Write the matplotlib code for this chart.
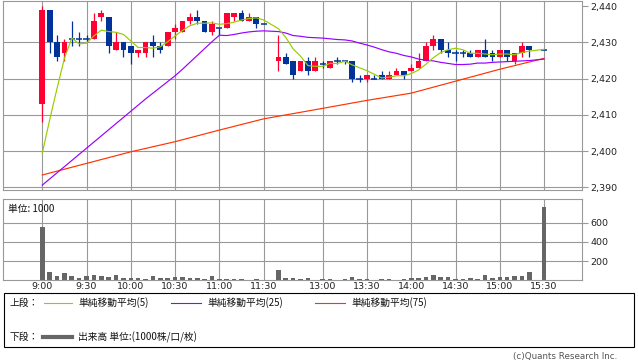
import matplotlib
matplotlib.use("Agg")
import matplotlib.pyplot as plt
from matplotlib.patches import Rectangle
from matplotlib.lines import Line2D

plt.rcParams['font.family'] = ['DejaVu Sans']
JP = ['Noto Sans CJK JP', 'DejaVu Sans']

# 5-minute slots, 0 = 9:00 ... 68 = 15:30 (slot 31 = lunch, 67 = closing auction wait)
bar_pos = list(range(0, 31)) + list(range(32, 67)) + [68]

opens = [2413, 2439, 2430, 2427, 2431, 2431, 2431, 2431, 2437, 2437, 2428, 2430, 2429, 2427, 2427, 2430,
         2429, 2429, 2433, 2433, 2436, 2437, 2436, 2433, 2434, 2434, 2437, 2438, 2436, 2437, 2435,
         2425, 2426, 2425, 2422, 2425, 2422, 2424, 2423, 2425, 2425, 2425, 2420, 2420, 2420, 2421, 2420,
         2421, 2422, 2422, 2423, 2425, 2429, 2431, 2428, 2427, 2427, 2427, 2426, 2428, 2427, 2426, 2428,
         2425, 2427, 2429, 2428]
highs = [2440, 2439, 2432, 2431, 2436, 2433, 2432, 2438, 2439, 2437, 2433, 2430, 2429, 2428, 2430, 2432,
         2430, 2433, 2435, 2436, 2438, 2439, 2436, 2436, 2434, 2438, 2438, 2439, 2438, 2437, 2435,
         2432, 2427, 2425, 2425, 2426, 2426, 2425, 2425, 2426, 2425, 2425, 2421, 2421, 2421, 2422, 2422,
         2423, 2422, 2424, 2427, 2430, 2432, 2431, 2430, 2428, 2428, 2428, 2428, 2431, 2428, 2428, 2428,
         2427, 2430, 2429, 2428]
lows = [2408, 2427, 2425, 2425, 2429, 2429, 2430, 2431, 2436, 2427, 2428, 2426, 2424, 2426, 2426, 2426,
        2427, 2429, 2431, 2433, 2435, 2435, 2433, 2432, 2432, 2434, 2436, 2436, 2436, 2434, 2435,
        2422, 2424, 2420, 2422, 2421, 2422, 2423, 2423, 2424, 2424, 2419, 2419, 2419, 2420, 2420, 2420,
        2421, 2420, 2422, 2423, 2425, 2428, 2427, 2426, 2425, 2426, 2426, 2426, 2426, 2425, 2426, 2425,
        2424, 2426, 2426, 2428]
closes = [2439, 2430, 2426, 2430, 2431, 2431, 2431, 2436, 2438, 2429, 2430, 2428, 2427, 2428, 2430, 2429,
          2428, 2433, 2434, 2436, 2437, 2436, 2433, 2435, 2434, 2438, 2438, 2436, 2437, 2435, 2435,
          2426, 2424, 2421, 2425, 2422, 2425, 2424, 2425, 2425, 2425, 2420, 2420, 2421, 2420, 2420, 2421,
          2422, 2421, 2423, 2425, 2429, 2431, 2428, 2427, 2427, 2427, 2426, 2428, 2426, 2426, 2428, 2426,
          2427, 2429, 2428, 2428]

ma5 = [2399.4, 2408.6, 2417.3, 2425.6, 2431.2, 2429.6, 2429.8, 2431.8, 2433.4, 2433.0, 2432.8, 2432.2,
       2430.4, 2428.6, 2428.6, 2428.4, 2428.8, 2430.2, 2431.8, 2433.3, 2434.6, 2435.3, 2435.3, 2435.4,
       2435.0, 2435.2, 2435.6, 2436.2, 2436.6, 2436.8, 2436.2,
       2433.8, 2431.4, 2428.2, 2426.2, 2423.6, 2423.4, 2423.4, 2424.2, 2424.2, 2424.8, 2423.8, 2423.0,
       2422.2, 2421.2, 2420.2, 2420.4, 2420.8, 2420.8, 2421.4, 2422.4, 2424.0, 2425.8, 2427.2, 2428.0,
       2428.4, 2428.0, 2427.0, 2427.0, 2426.8, 2426.6, 2426.8, 2426.8, 2426.6, 2427.2, 2427.6, 2428.1]
ma25 = [2390.6, 2392.3, 2394.0, 2395.7, 2397.4, 2399.1, 2400.8, 2402.5, 2404.2, 2405.9, 2407.6, 2409.3,
        2411.0, 2412.7, 2414.4, 2416.0, 2417.6, 2419.2, 2420.8, 2422.6, 2424.5, 2426.4, 2428.3, 2430.2,
        2432.0, 2431.9, 2432.2, 2432.6, 2432.9, 2433.1, 2433.2,
        2433.0, 2432.6, 2431.9, 2431.7, 2431.4, 2431.3, 2431.2, 2431.0, 2430.8, 2430.7, 2430.4, 2429.8,
        2429.3, 2428.7, 2428.0, 2427.4, 2427.0, 2426.4, 2426.0, 2425.4, 2425.1, 2424.9, 2424.5, 2424.2,
        2423.9, 2423.9, 2424.0, 2424.3, 2424.3, 2424.5, 2424.6, 2424.7, 2424.8, 2424.9, 2425.0, 2425.4]
ma75_pos = [0, 6, 12, 18, 24, 30, 38, 44, 50, 56, 62, 68]
ma75 = [2393.4, 2396.6, 2399.8, 2402.6, 2405.8, 2408.9, 2411.8, 2414.0, 2416.0, 2419.3, 2422.6, 2425.6]

volume = [555, 89, 48, 79, 48, 27, 48, 58, 48, 37, 58, 27, 27, 27, 17, 48, 27, 27, 37, 37, 27, 27, 17,
          48, 17, 17, 17, 17, 5, 17, 3,
          110, 27, 27, 17, 27, 5, 17, 17, 5, 17, 37, 17, 17, 5, 17, 17, 5, 17, 27, 27, 37, 58, 37, 37,
          17, 17, 27, 17, 58, 27, 37, 37, 48, 48, 89, 766]

time_pos = [0, 6, 12, 18, 24, 30, 38, 44, 50, 56, 62, 68]
time_labels = ['9:00', '9:30', '10:00', '10:30', '11:00', '11:30', '13:00', '13:30',
               '14:00', '14:30', '15:00', '15:30']
price_ticks = [2390, 2400, 2410, 2420, 2430, 2440]
price_labels = ['2,390', '2,400', '2,410', '2,420', '2,430', '2,440']
vol_ticks = [200, 400, 600]
vol_labels = ['200', '400', '600']

UP = '#ff0033'
DOWN = '#003399'
GRID = '#999999'

W, H = 638, 362
fig = plt.figure(figsize=(W / 100, H / 100), dpi=100)


def fx(px):
    return px / W


def fy(py):
    return 1 - py / H


ax1 = fig.add_axes([fx(3.3), fy(189.7), fx(581.7) - fx(3.3), fy(1) - fy(189.7)])
ax2 = fig.add_axes([fx(3.3), fy(280.3), fx(581.7) - fx(3.3), fy(199.3) - fy(280.3)])

for ax in (ax1, ax2):
    ax.set_xlim(-5.28, 73.1)
    for s in ax.spines.values():
        s.set_color(GRID)
        s.set_linewidth(0.8)
    for t in time_pos:
        ax.axvline(t, color=GRID, lw=0.8, zorder=0)
    ax.yaxis.tick_right()
    ax.tick_params(axis='y', length=4.5, width=0.8, color=GRID, labelsize=6.8,
                   labelcolor='#222222', pad=2)

# price panel
ax1.set_ylim(2389.34, 2441.44)
for p in price_ticks[:-1]:
    ax1.axhline(p, color=GRID, lw=0.8, zorder=0)
ax1.set_yticks(price_ticks)
ax1.set_yticklabels(price_labels)
ax1.set_xticks([])

body_bot = [min(o, c) for o, c in zip(opens, closes)]
body_h = [abs(c - o) for o, c in zip(opens, closes)]
cols = [UP if c > o else DOWN for o, c in zip(opens, closes)]
ax1.vlines(bar_pos, lows, highs, colors=cols, lw=0.9, zorder=2)
ax1.bar(bar_pos, body_h, bottom=body_bot, width=0.78, color=cols, lw=0, zorder=2)
doji = [(x, c) for x, o, c in zip(bar_pos, opens, closes) if o == c]
ax1.hlines([d[1] for d in doji], [d[0] - 0.42 for d in doji], [d[0] + 0.42 for d in doji],
           colors=DOWN, lw=1.1, zorder=2)

ax1.plot(ma75_pos, ma75, color='#ff3300', lw=0.85, zorder=3)
ax1.plot(bar_pos, ma25, color='#9900ff', lw=0.85, zorder=3)
ax1.plot(bar_pos, ma5, color='#99cc00', lw=0.85, zorder=3)

# volume panel
ax2.set_ylim(0, 842)
for v in vol_ticks:
    ax2.axhline(v, color=GRID, lw=0.8, zorder=0)
ax2.bar(bar_pos, volume, width=0.62, color='#666666', lw=0, zorder=2)
ax2.set_yticks(vol_ticks)
ax2.set_yticklabels(vol_labels)
ax2.set_xticks(time_pos)
ax2.set_xticklabels(time_labels)
ax2.tick_params(axis='x', length=0, labelsize=6.8, labelcolor='#222222', pad=1.5)
ax2.text(fx(8), fy(209), '単位: 1000', transform=fig.transFigure, fontsize=7, family=JP,
         va='center', ha='left', color='#111111')

# legend box
fig.patches.append(Rectangle((fx(3.5), fy(347)), fx(634) - fx(3.5), fy(293.5) - fy(347),
                             transform=fig.transFigure, fill=False, ec='#000000', lw=0.8))
row1, row2 = 303, 337
fig.text(fx(10), fy(row1), '上段：', fontsize=7, family=JP, va='center', color='#111111')
fig.text(fx(10), fy(row2), '下段：', fontsize=7, family=JP, va='center', color='#111111')
legend_items = [(44, 72, '#99cc00', '単純移動平均(5)'),
                (171, 201, '#9900ff', '単純移動平均(25)'),
                (315, 345, '#ff3300', '単純移動平均(75)')]
for x0, x1, col, lab in legend_items:
    fig.add_artist(Line2D([fx(x0), fx(x1)], [fy(row1), fy(row1)], transform=fig.transFigure,
                          color=col, lw=0.8))
    fig.text(fx(x1 + 6), fy(row1), lab, fontsize=7, family=JP, va='center', color='#111111')
fig.add_artist(Line2D([fx(43), fx(72)], [fy(row2), fy(row2)], transform=fig.transFigure,
                      color='#666666', lw=3))
fig.text(fx(78), fy(row2), '出来高 単位:(1000株/口/枚)', fontsize=7, family=JP, va='center',
         color='#111111')

fig.text(fx(617), fy(356), '(c)Quants Research Inc.', fontsize=6.3, ha='right', va='center',
         color='#555555')

fig.savefig('out.png', dpi=100)
